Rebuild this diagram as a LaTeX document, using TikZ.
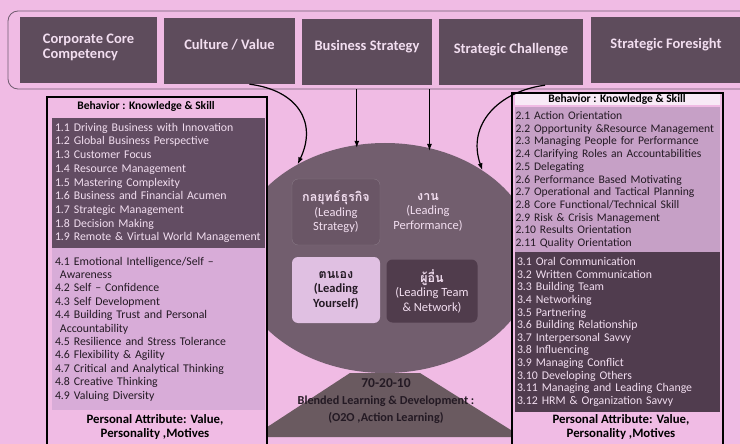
\documentclass[tikz,border=0pt]{standalone}
\usepackage{fontspec}
\setmainfont{Carlito}
\newfontfamily\thaifont[Script=Thai]{Loma}
\usetikzlibrary{shapes.geometric,arrows.meta}

\definecolor{bgpink}{RGB}{240,187,228}
\definecolor{framegray}{RGB}{112,92,112}
\definecolor{boxdark}{RGB}{94,76,92}
\definecolor{coredark}{RGB}{114,94,110}
\definecolor{quaddark}{RGB}{106,86,102}
\definecolor{quadlight}{RGB}{224,192,226}
\definecolor{quadnight}{RGB}{80,60,76}
\definecolor{trapdark}{RGB}{106,90,96}
\definecolor{listdark}{RGB}{98,76,98}
\definecolor{listlight}{RGB}{216,172,216}
\definecolor{listgrey}{RGB}{198,160,198}
\definecolor{listnight}{RGB}{80,60,78}
\definecolor{paletext}{RGB}{242,222,240}
\definecolor{inktext}{RGB}{36,26,36}
\definecolor{headwhite}{RGB}{248,234,246}

\tikzset{
  topbox/.style={fill=boxdark, text=paletext, minimum height=66pt, align=left,
    font=\bfseries\fontsize{14.5}{15.5}\selectfont, inner sep=0pt},
  panel/.style={draw=black, line width=1.6pt, fill=bgpink, inner sep=0pt},
  listbox/.style={align=left, inner xsep=3pt, inner ysep=0pt,
    font=\fontsize{11.8}{13.7}\selectfont},
  quad/.style={rounded corners=6pt, minimum width=88pt, minimum height=66pt,
    align=center, font=\fontsize{12.5}{14.5}\selectfont},
  headtext/.style={font=\bfseries\fontsize{11.5}{12}\selectfont, text=black},
  foottext/.style={font=\bfseries\fontsize{12.8}{13.5}\selectfont, text=black, align=center},
  arrow/.style={line width=1.2pt, -{Latex[length=7pt,width=5pt]}}
}

\begin{document}
\begin{tikzpicture}[x=1pt,y=-1pt]

  \fill[bgpink] (0,0) rectangle (740,444);
  \clip (0,0) rectangle (740,444);

  \node[draw=framegray, line width=0.8pt, rounded corners=10pt,
        minimum width=772pt, minimum height=78pt] (frame) at (394,50) {};

  \begin{scope}[every node/.style={topbox}]
    \node[minimum width=137pt, text depth=8pt] (corecomp)  at (88.5,50)  {Corporate Core\\Competency};
    \node[minimum width=131pt, text depth=14pt] (culture)   at (229.5,51) {Culture / Value};
    \node[minimum width=130pt, text depth=14pt] (bizstrat)  at (367,52)   {Business Strategy};
    \node[minimum width=144pt, text depth=8pt]  (challenge) at (511,52)   {Strategic Challenge};
    \node[minimum width=150pt, text depth=14pt] (foresight) at (666,50)   {Strategic Foresight};
  \end{scope}

  \node[ellipse, fill=coredark, inner sep=0pt,
        minimum width=300pt, minimum height=230pt] (core) at (385,258) {};

  \fill[trapdark] (350,373) -- (420,373) -- (522,437) -- (252,437) -- cycle;

  \begin{scope}[every node/.style={quad}]
    \node[fill=quaddark, draw=quaddark!80!white, text=paletext] (strategy) at (336,212)
      {{\thaifont\bfseries กลยุทธ์ธุรกิจ}\\(Leading\\Strategy)};
    \node[text=paletext] (perform) at (428,212)
      {{\thaifont\bfseries งาน}\\(Leading\\Performance)};
    \node[fill=quadlight, text=inktext, font=\bfseries\fontsize{12.5}{14.5}\selectfont] (yourself) at (336,290)
      {{\thaifont\bfseries ตนเอง}\\(Leading\\Yourself)};
    \node[fill=quadnight, text=paletext, minimum width=91pt, minimum height=63pt] (team) at (432,291)
      {{\thaifont\bfseries ผู้อื่น}\\(Leading Team\\\& Network)};
  \end{scope}

  \node[font=\bfseries\fontsize{12.2}{17}\selectfont, text=inktext, align=center] (blend) at (386,401)
    {{\fontsize{13.5}{17}\selectfont 70-20-10}\\Blended Learning \& Development :\\(O2O ,Action Learning)};

  \node[panel, minimum width=220pt, minimum height=380pt] (leftpanel)  at (157,287) {};
  \node[panel, minimum width=211pt, minimum height=380pt] (rightpanel) at (617.5,283) {};

  \begin{scope}[every node/.style={listbox}]
    \node[fill=listdark, text=paletext, text width=207pt, minimum height=130pt] (skillsA) at (158.5,183)
      {1.1 Driving Business with Innovation\\
       1.2 Global Business Perspective\\
       1.3 Customer Focus\\
       1.4 Resource Management\\
       1.5 Mastering Complexity\\
       1.6 Business and Financial Acumen\\
       1.7 Strategic Management\\
       1.8 Decision Making\\
       1.9 Remote \& Virtual World Management};
    \node[fill=listlight, text=inktext, text width=207pt, minimum height=162pt,
          font=\fontsize{11.8}{13.4}\selectfont] (attrA) at (158.5,329)
      {4.1 Emotional Intelligence/Self --\\
       \hspace*{5pt}Awareness\\
       4.2 Self -- Confidence\\
       4.3 Self Development\\
       4.4 Building Trust and Personal\\
       \hspace*{5pt}Accountability\\
       4.5 Resilience and Stress Tolerance\\
       4.6 Flexibility \& Agility\\
       4.7 Critical and Analytical Thinking\\
       4.8 Creative Thinking\\
       4.9 Valuing Diversity};
    \node[fill=listgrey, text=inktext, text width=204pt, minimum height=146pt,
          inner xsep=0.5pt, font=\fontsize{11.6}{12.7}\selectfont] (skillsB) at (617.5,180)
      {2.1 Action Orientation\\
       2.2 Opportunity \&Resource Management\\
       2.3 Managing People for Performance\\
       2.4 Clarifying Roles an Accountabilities\\
       2.5 Delegating\\
       2.6 Performance Based Motivating\\
       2.7 Operational and Tactical Planning\\
       2.8 Core Functional/Technical Skill\\
       2.9 Risk \& Crisis Management\\
       2.10 Results Orientation\\
       2.11 Quality Orientation};
    \node[fill=listnight, text=paletext, text width=201pt, minimum height=160pt,
          inner xsep=2pt, font=\fontsize{11.8}{12.6}\selectfont] (attrB) at (617.5,332)
      {3.1 Oral Communication\\
       3.2 Written Communication\\
       3.3 Building Team\\
       3.4 Networking\\
       3.5 Partnering\\
       3.6 Building Relationship\\
       3.7 Interpersonal Savvy\\
       3.8 Influencing\\
       3.9 Managing Conflict\\
       3.10 Developing Others\\
       3.11 Managing and Leading Change\\
       3.12 HRM \& Organization Savvy};
  \end{scope}

  \node[fill=headwhite, minimum width=205pt, minimum height=11pt, inner sep=0pt] (headstrip) at (617.5,100) {};
  \node[headtext] (headA) at (146,106) {Behavior : Knowledge \& Skill};
  \node[headtext] (headB) at (617,99) {Behavior : Knowledge \& Skill};

  \node[foottext] (footA) at (155,427) {Personal Attribute: Value,\\Personality ,Motives};
  \node[foottext] (footB) at (621,427) {Personal Attribute: Value,\\Personality ,Motives};

  \draw[arrow] ([xshift=20pt]culture.south) .. controls +(48,6) and +(20,-42) .. (core.133);
  \draw[arrow] (core.104 |- frame.south) -- ([yshift=-3pt]core.104);
  \draw[arrow] (core.68 |- frame.south) -- ([yshift=-3pt]core.68);
  \draw[arrow] ([xshift=34pt]challenge.south) .. controls +(-46,6) and +(-16,-46) .. (core.42);

\end{tikzpicture}
\end{document}
